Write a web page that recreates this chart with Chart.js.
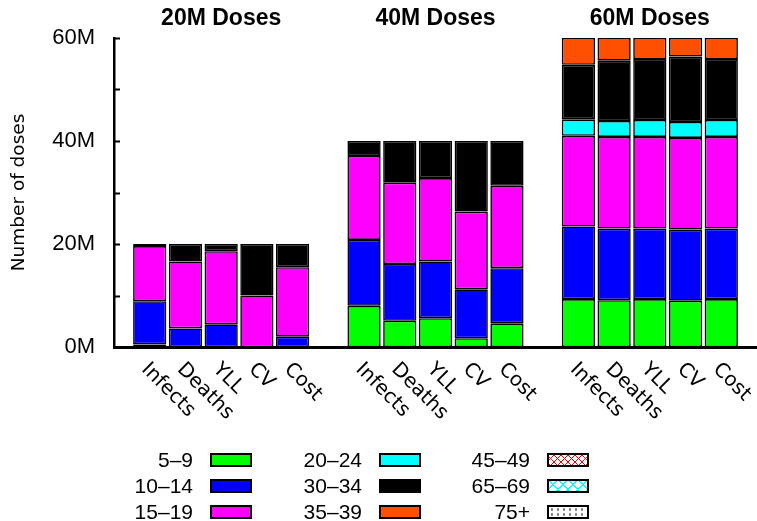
<!DOCTYPE html>
<html>
<head>
<meta charset="utf-8">
<title>Number of doses by age group</title>
<script src="https://cdn.jsdelivr.net/npm/chart.js@4.4.1/dist/chart.umd.min.js"></script>
<style>
  html, body { margin: 0; padding: 0; background: #fff; }
  #wrap { position: relative; width: 757px; height: 521px; overflow: hidden; }
  #chart { position: absolute; left: 0; top: 0; }
  .leg-item { position: absolute; height: 26px; display: flex; align-items: center;
              font-family: 'Liberation Sans', Arial, sans-serif; font-size: 21px; color: #000; }
  .leg-label { width: 90px; text-align: right; margin-right: 17px; white-space: nowrap; }
  .leg-box { width: 38px; height: 10px; border: 2px solid #000; }
</style>
</head>
<body>
<div id="wrap">
  <canvas id="chart" width="757" height="521"></canvas>
  <div id="legend"></div>
</div>
<script>
// --- Data (millions of doses) ---
const metrics = ['Infects', 'Deaths', 'YLL', 'CV', 'Cost'];
const groupTitles = ['20M Doses', '40M Doses', '60M Doses'];
const ageGroups = ['5–9', '10–14', '15–19', '20–24', '30–34', '35–39', '45–49', '65–69', '75+'];
const yTickLabels = ['0M', '20M', '40M', '60M'];

// each list: 20M group (5 metrics), 40M group, 60M group
const age5to9   = [0.5, 0, 0, 0, 0,        8.0, 5.1, 5.6, 1.7, 4.6,      9.3, 9.1, 9.3, 9.0, 9.3];
const age10to14 = [8.4, 3.6, 4.4, 0, 2.0,  12.8, 11.0, 11.0, 9.5, 10.7,  14.1, 13.9, 13.7, 13.8, 13.7];
const age15to19 = [10.7, 13.0, 14.2, 10.0, 13.5, 16.3, 15.8, 16.2, 15.1, 16.0, 17.6, 17.8, 17.8, 17.8, 17.8];
const age20to24 = [0, 0, 0, 0, 0,          0, 0, 0, 0, 0,                3.2, 3.1, 3.3, 3.1, 3.3];
const age30to34 = [0.4, 3.4, 1.4, 10.0, 4.5, 2.9, 8.1, 7.2, 13.7, 8.7,   10.6, 11.7, 11.8, 12.7, 11.8];
const age35to39 = [0, 0, 0, 0, 0,          0, 0, 0, 0, 0,                5.2, 4.4, 4.1, 3.6, 4.1];
const age45to49 = [0, 0, 0, 0, 0,          0, 0, 0, 0, 0,                0, 0, 0, 0, 0];
const age65to69 = [0, 0, 0, 0, 0,          0, 0, 0, 0, 0,                0, 0, 0, 0, 0];
const age75plus = [0, 0, 0, 0, 0,          0, 0, 0, 0, 0,                0, 0, 0, 0, 0];

const seriesValues = [age5to9, age10to14, age15to19, age20to24, age30to34, age35to39, age45to49, age65to69, age75plus];

// --- Styles ---
const fillColors = ['#00ff00', '#0000ff', '#ff00ff', '#00ffff', '#000000', '#ff4f00', '#ff0000', '#00ffff', '#999999'];
const legendFills = [
    '#00ff00', '#0000ff', '#ff00ff', '#00ffff', '#000000', '#ff4f00',
    'repeating-linear-gradient(45deg, #f00 0 1px, transparent 1px 5px), repeating-linear-gradient(-45deg, #f00 0 1px, #fff 1px 5px)',
    'repeating-linear-gradient(45deg, #0ff 0 1px, transparent 1px 7px), repeating-linear-gradient(-45deg, #0ff 0 1px, #fff 1px 7px)',
    'radial-gradient(circle, #777 0 1px, #fff 1.5px) 0 0 / 6px 5px'
];

// slot on the x axis: 5 bars per group, one empty slot between groups
const slotOf = i => Math.floor(i / metrics.length) * (metrics.length + 1) + (i % metrics.length);

const datasets = ageGroups.map((name, k) => ({
    label: name,
    data: seriesValues[k].map((v, i) => ({ x: slotOf(i), y: v })),
    backgroundColor: fillColors[k],
    borderColor: '#000',
    borderWidth: 1.6,
    borderSkipped: false,
    categoryPercentage: 1,
    barPercentage: 0.93
}));

// --- Extra drawing: inward ticks, rotated category labels, group titles ---
const overlayPlugin = {
    id: 'overlay',
    afterDraw(chart) {
        const ctx = chart.ctx;
        const xs = chart.scales.x;
        const ys = chart.scales.y;
        const area = chart.chartArea;
        ctx.save();

        ctx.strokeStyle = '#000';
        ctx.lineWidth = 2;
        for (let v = 10; v <= 60; v += 10) {
            const y = Math.round(ys.getPixelForValue(v)) + 0.5;
            ctx.beginPath();
            ctx.moveTo(area.left, y);
            ctx.lineTo(area.left + 6, y);
            ctx.stroke();
        }

        ctx.fillStyle = '#000';
        ctx.font = '20px "DejaVu Sans", sans-serif';
        ctx.textAlign = 'left';
        ctx.textBaseline = 'alphabetic';
        for (let i = 0; i < seriesValues[0].length; i++) {
            const x = xs.getPixelForValue(slotOf(i));
            ctx.save();
            ctx.translate(x - 9, area.bottom + 23);
            ctx.rotate(Math.PI / 4);
            ctx.fillText(metrics[i % metrics.length], 0, 0);
            ctx.restore();
        }

        ctx.font = 'bold 23px "Liberation Sans", Arial, sans-serif';
        ctx.textAlign = 'center';
        ctx.textBaseline = 'middle';
        groupTitles.forEach((t, g) => {
            const x = xs.getPixelForValue(g * (metrics.length + 1) + 2);
            ctx.fillText(t, x, 19);
        });

        ctx.restore();
    }
};

new Chart(document.getElementById('chart').getContext('2d'), {
    type: 'bar',
    data: { datasets: datasets },
    options: {
        responsive: false,
        animation: false,
        layout: { padding: { top: 38, bottom: 174, left: 0, right: 0 } },
        plugins: { legend: { display: false }, tooltip: { enabled: false } },
        scales: {
            x: {
                type: 'linear',
                stacked: true,
                offset: false,
                min: -1,
                max: 17,
                bounds: 'data',
                ticks: { display: false },
                grid: { display: false, drawTicks: false },
                border: { display: true, color: '#000', width: 3 },
                afterFit: s => { s.height = 0; }
            },
            y: {
                stacked: true,
                min: 0,
                max: 60,
                ticks: {
                    stepSize: 10,
                    padding: 19,
                    color: '#000',
                    font: { family: '"Liberation Sans", Arial, sans-serif', size: 22 },
                    callback: v => (v % 20 === 0 ? yTickLabels[v / 20] : '')
                },
                grid: { display: false, drawTicks: false },
                border: { display: true, color: '#000', width: 2.5 },
                title: {
                    display: true,
                    text: 'Number of doses',
                    color: '#000',
                    font: { family: '"DejaVu Sans", sans-serif', size: 18.5 },
                    padding: { top: 8, bottom: 0 }
                },
                afterFit: s => { s.width = 114; }
            }
        }
    },
    plugins: [overlayPlugin]
});

// --- HTML legend: three columns, label then swatch ---
const legendBoxX = [210, 379, 547];
const legendRowY = [460, 486, 512];
const legendEl = document.getElementById('legend');
ageGroups.forEach((name, k) => {
    const col = Math.floor(k / 3), row = k % 3;
    const item = document.createElement('div');
    item.className = 'leg-item';
    item.style.left = (legendBoxX[col] - 107) + 'px';
    item.style.top = (legendRowY[row] - 13) + 'px';
    item.innerHTML = '<span class="leg-label">' + name + '</span><span class="leg-box"></span>';
    item.querySelector('.leg-box').style.background = legendFills[k];
    legendEl.appendChild(item);
});
</script>
</body>
</html>
